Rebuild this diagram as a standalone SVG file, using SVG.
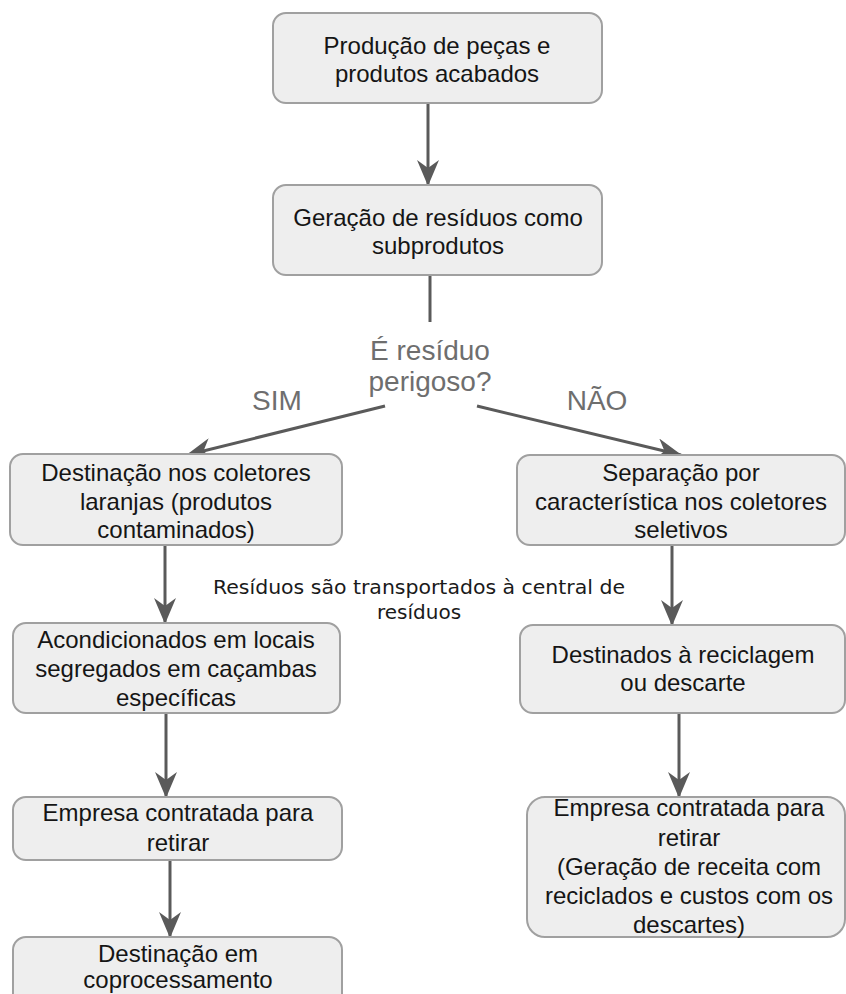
<svg xmlns="http://www.w3.org/2000/svg" width="846" height="994" viewBox="0 0 846 994">
  <defs>
    <marker id="arrow" markerUnits="userSpaceOnUse" viewBox="0 0 26 22" refX="25" refY="11" markerWidth="26" markerHeight="22" orient="auto">
      <path d="M0,0 L26,11 L0,22 L8,11 Z" fill="#5a5a5a"/>
    </marker>
  </defs>
  <style>
    .box { fill: #eeeeee; stroke: #a0a0a0; stroke-width: 2; }
    .t { font-family: "Liberation Sans", Arial, sans-serif; font-size: 24px; fill: #151515; text-anchor: middle; }
    .q { font-family: "Liberation Sans", Arial, sans-serif; font-size: 28px; fill: #6e6e6e; text-anchor: middle; }
    .lbl { font-family: "DejaVu Sans", Verdana, sans-serif; font-size: 20px; fill: #1a1a1a; text-anchor: middle; }
    .edge { fill: none; stroke: #5a5a5a; stroke-width: 3; }
  </style>
  <rect width="846" height="994" fill="#ffffff"/>

  <g id="connectors">
    <line class="edge" x1="428" y1="103" x2="428" y2="185" marker-end="url(#arrow)"/>
    <line class="edge" x1="430" y1="275" x2="430" y2="322"/>
    <line class="edge" x1="385" y1="406" x2="187" y2="455" marker-end="url(#arrow)"/>
    <line class="edge" x1="477" y1="406" x2="681" y2="455" marker-end="url(#arrow)"/>
    <line class="edge" x1="165" y1="545" x2="165" y2="623" marker-end="url(#arrow)"/>
    <line class="edge" x1="166" y1="713" x2="166" y2="797" marker-end="url(#arrow)"/>
    <line class="edge" x1="170" y1="860" x2="170" y2="937" marker-end="url(#arrow)"/>
    <line class="edge" x1="672" y1="545" x2="672" y2="625" marker-end="url(#arrow)"/>
    <line class="edge" x1="679" y1="713" x2="679" y2="797" marker-end="url(#arrow)"/>
  </g>

  <g id="producao">
    <rect class="box" x="273" y="13" width="329" height="90" rx="13"/>
    <text class="t" x="437" y="54">Produção de peças e</text>
    <text class="t" x="437" y="82">produtos acabados</text>
  </g>

  <g id="geracao">
    <rect class="box" x="273" y="185" width="329" height="90" rx="13"/>
    <text class="t" x="438" y="226">Geração de resíduos como</text>
    <text class="t" x="438" y="254">subprodutos</text>
  </g>

  <g id="decisao">
    <text class="q" x="430" y="360">É resíduo</text>
    <text class="q" x="430" y="391">perigoso?</text>
    <text class="q" x="277" y="410">SIM</text>
    <text class="q" x="597" y="410">NÃO</text>
  </g>

  <g id="coletores-laranjas">
    <rect class="box" x="10" y="454" width="332" height="91" rx="13"/>
    <text class="t" x="176" y="481">Destinação nos coletores</text>
    <text class="t" x="176" y="510">laranjas (produtos</text>
    <text class="t" x="176" y="538">contaminados)</text>
  </g>

  <g id="transporte-label">
    <text class="lbl" x="419" y="594" textLength="412" lengthAdjust="spacingAndGlyphs">Resíduos são transportados à central de</text>
    <text class="lbl" x="419" y="619">resíduos</text>
  </g>

  <g id="acondicionados">
    <rect class="box" x="13" y="623" width="327" height="90" rx="13"/>
    <text class="t" x="176" y="648">Acondicionados em locais</text>
    <text class="t" x="176" y="677">segregados em caçambas</text>
    <text class="t" x="176" y="706">específicas</text>
  </g>

  <g id="empresa-sim">
    <rect class="box" x="13" y="797" width="329" height="63" rx="13"/>
    <text class="t" x="178" y="821">Empresa contratada para</text>
    <text class="t" x="178" y="851">retirar</text>
  </g>

  <g id="coprocessamento">
    <rect class="box" x="13" y="937" width="329" height="75" rx="13"/>
    <text class="t" x="178" y="962">Destinação em</text>
    <text class="t" x="178" y="988">coprocessamento</text>
  </g>

  <g id="separacao">
    <rect class="box" x="517" y="455" width="328" height="90" rx="13"/>
    <text class="t" x="681" y="481">Separação por</text>
    <text class="t" x="681" y="510">característica nos coletores</text>
    <text class="t" x="681" y="538">seletivos</text>
  </g>

  <g id="reciclagem">
    <rect class="box" x="520" y="625" width="325" height="88" rx="13"/>
    <text class="t" x="683" y="663">Destinados à reciclagem</text>
    <text class="t" x="683" y="691">ou descarte</text>
  </g>

  <g id="empresa-nao">
    <rect class="box" x="527" y="797" width="318" height="140" rx="18"/>
    <text class="t" x="689" y="816">Empresa contratada para</text>
    <text class="t" x="689" y="846">retirar</text>
    <text class="t" x="689" y="875">(Geração de receita com</text>
    <text class="t" x="689" y="904">reciclados e custos com os</text>
    <text class="t" x="689" y="933">descartes)</text>
  </g>
</svg>
